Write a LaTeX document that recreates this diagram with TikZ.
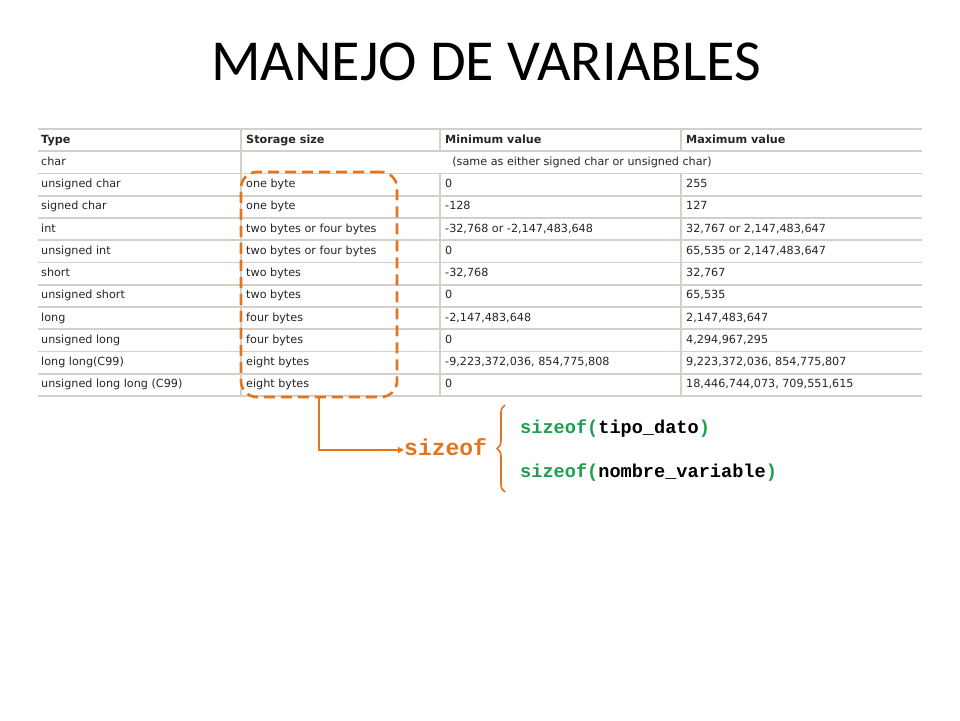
\documentclass[tikz,border=0pt]{standalone}
\usepackage{fontspec}
\setmainfont{Carlito}
\newfontfamily\tabfont{DejaVu Sans}
\newfontfamily\codefont{Liberation Mono}
\usetikzlibrary{decorations.pathreplacing,arrows.meta}
\definecolor{org}{HTML}{E2761E}
\definecolor{grn}{HTML}{1E9E50}
\definecolor{grid}{HTML}{D4D0C8}
\begin{document}
\begin{tikzpicture}[x=1pt,y=-1pt,
  cell/.style={anchor=west,inner sep=0pt,text height=8.2pt,text depth=2.4pt,font=\tabfont\fontsize{11.2}{13}\selectfont,text=black!85},
  hcell/.style={cell,font=\tabfont\bfseries\fontsize{11.2}{13}\selectfont},
  gl/.style={grid,line width=1.6pt},
  code/.style={inner sep=0pt,anchor=west,text height=11pt,text depth=3pt,font=\codefont\bfseries\fontsize{18.6}{21}\selectfont}]
\useasboundingbox[fill=white] (0,0) rectangle (960,720);
\node[font=\fontsize{58}{66}\selectfont] (title) at (486,62) {MANEJO DE VARIABLES};
% grid
\foreach \i in {0,...,12}{\draw[gl] (38,{129+22.25*\i}) -- (922,{129+22.25*\i});}
\draw[gl] (241,129) -- (241,396);
\draw[gl] (440,129) -- (440,151.25) (440,173.5) -- (440,396);
\draw[gl] (681,129) -- (681,151.25) (681,173.5) -- (681,396);
\node[hcell] (h1) at (41,140.1) {Type};
\node[hcell] (h2) at (246,140.1) {Storage size};
\node[hcell] (h3) at (445,140.1) {Minimum value};
\node[hcell] (h4) at (686,140.1) {Maximum value};
\node[cell] (c1) at (41,162.4) {char};
\node[cell,anchor=center] (c2) at (582,162.4) {(same as either signed char or unsigned char)};
\foreach[count=\k] \a/\b/\c/\d in {
 unsigned char/one byte/0/255,
 signed char/one byte/-128/127,
 int/two bytes or four bytes/{-32,768 or -2,147,483,648}/{32,767 or 2,147,483,647},
 unsigned int/two bytes or four bytes/0/{65,535 or 2,147,483,647},
 short/two bytes/{-32,768}/{32,767},
 unsigned short/two bytes/0/{65,535},
 long/four bytes/{-2,147,483,648}/{2,147,483,647},
 unsigned long/four bytes/0/{4,294,967,295},
 long long(C99)/eight bytes/{-9,223,372,036, 854,775,808}/{9,223,372,036, 854,775,807},
 unsigned long long (C99)/eight bytes/0/{18,446,744,073, 709,551,615}}{
 \node[cell] (r\k a) at (41,{162.4+22.25*\k}) {\a};
 \node[cell] (r\k b) at (246,{162.4+22.25*\k}) {\b};
 \node[cell] (r\k c) at (445,{162.4+22.25*\k}) {\c};
 \node[cell] (r\k d) at (686,{162.4+22.25*\k}) {\d};
}
% dashed box
\node[draw=org,line width=2.6pt,dash pattern=on 11pt off 6pt,rounded corners=16pt,
  minimum width=156pt,minimum height=225pt,inner sep=0pt] (box) at (319,284.5) {};
\node[code,text=org,text height=14pt,text depth=3pt,font=\codefont\bfseries\fontsize{23}{26}\selectfont] (sz) at (404,450) {sizeof};
\draw[org,line width=1.6pt,-{Triangle[length=6pt,width=6pt]}] (box.south) |- (sz.west);
\coordinate (bt) at (505,405);
\coordinate (bb) at (505,492);
\draw[org,line width=1.6pt,decorate,decoration={brace,amplitude=8pt}] (bb) -- (bt);
\node[code] (s1) at (520,429) {\textcolor{grn}{sizeof(}tipo\_dato\textcolor{grn}{)}};
\node[code] (s2) at (520,473) {\textcolor{grn}{sizeof(}nombre\_variable\textcolor{grn}{)}};
\end{tikzpicture}
\end{document}
